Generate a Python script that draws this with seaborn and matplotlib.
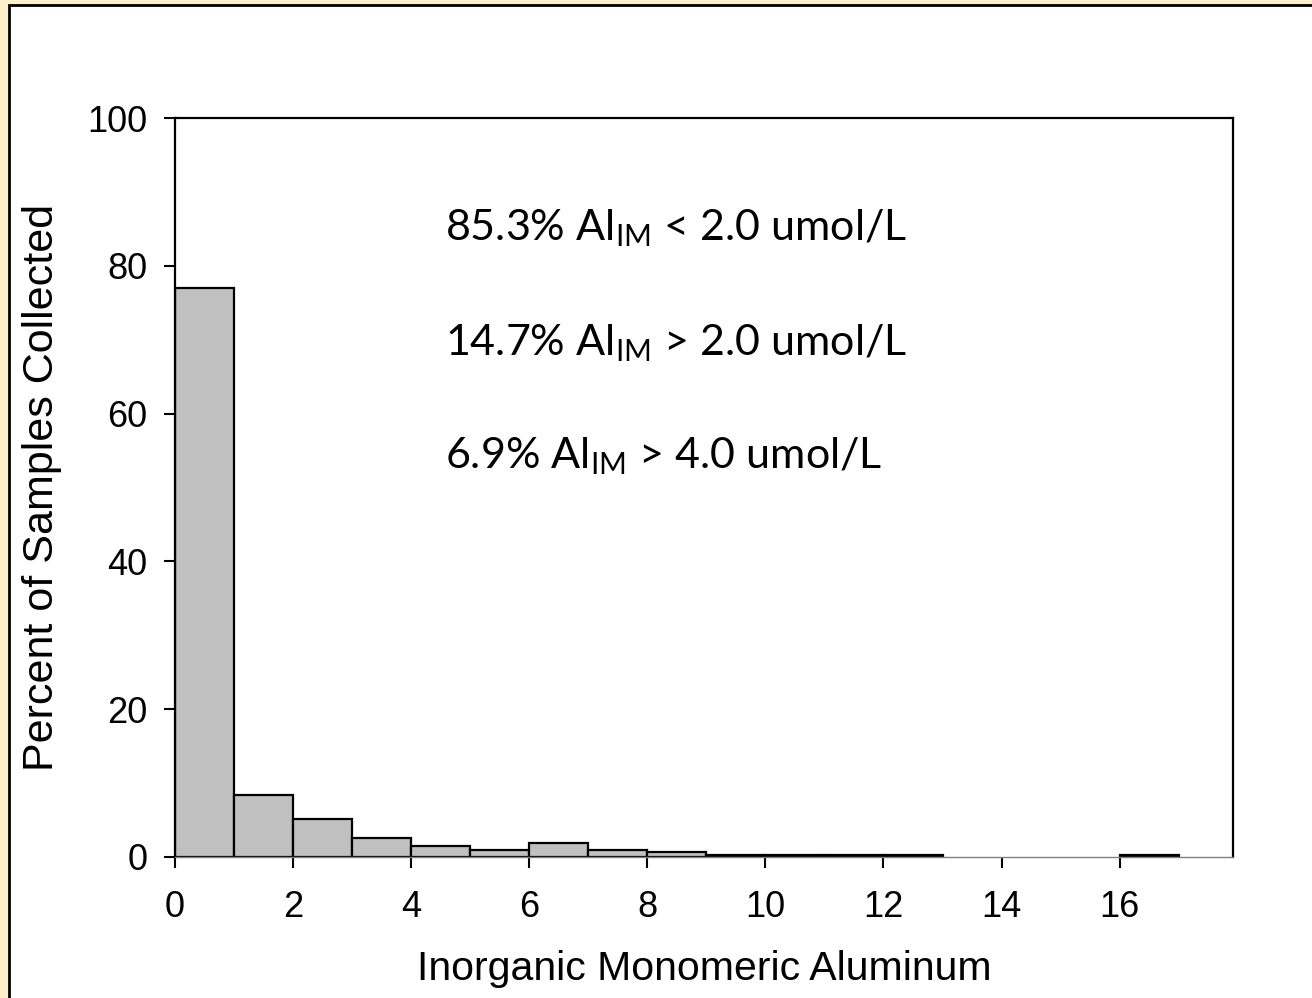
import matplotlib
matplotlib.use("Agg")
import matplotlib.pyplot as plt
from matplotlib.patches import Rectangle
import numpy as np
import seaborn as sns

# Histogram bins (umol/L) and percent of samples in each bin
bin_edges = [0, 1, 2, 3, 4, 5, 6, 7, 8, 9, 10, 11, 12, 13, 14, 15, 16, 17]
percent = [77.0, 8.4, 5.2, 2.6, 1.5, 0.9, 1.9, 0.95, 0.7,
           0.25, 0.25, 0.25, 0.25, 0.0, 0.0, 0.0, 0.25]

x_ticks = [0, 2, 4, 6, 8, 10, 12, 14, 16]
y_ticks = [0, 20, 40, 60, 80, 100]

summary = [
    ("85.3%", "<", "2.0"),
    ("14.7%", ">", "2.0"),
    ("6.9%", ">", "4.0"),
]

sns.set_theme(style="white")
plt.rcParams["font.family"] = ["Liberation Sans", "DejaVu Sans"]
plt.rcParams["text.color"] = "black"
plt.rcParams["axes.labelcolor"] = "black"
plt.rcParams["xtick.color"] = "black"
plt.rcParams["ytick.color"] = "black"

fig = plt.figure(figsize=(13.12, 9.98), dpi=100, facecolor="#FDEFCC")

# white panel with a dark frame, kept behind the axes
frame = Rectangle((9 / 1312, -0.1), 1.2, 1.1 - 5.5 / 998,
                  transform=fig.transFigure, facecolor="white",
                  edgecolor="black", linewidth=2, zorder=-10)
fig.add_artist(frame)

ax = fig.add_axes([175 / 1312, 1 - 857 / 998, 1058 / 1312, 739 / 998])
ax.set_facecolor("white")

centers = [(a + b) / 2 for a, b in zip(bin_edges[:-1], bin_edges[1:])]
sns.histplot(x=centers, weights=percent, bins=bin_edges, stat="count",
             color="#C0C0C0", edgecolor="black", linewidth=1.6, alpha=1,
             ax=ax)
for p in ax.patches:
    if p.get_height() == 0:
        p.set_linewidth(0)

ax.set_xlim(0, 17.92)
ax.set_ylim(0, 100)
ax.set_xticks(x_ticks)
ax.set_yticks(y_ticks)
ax.tick_params(axis="both", which="major", direction="out", length=8,
               width=1.5, color="black", labelcolor="black", labelsize=26,
               bottom=True, left=True)
ax.tick_params(axis="x", pad=16)
ax.tick_params(axis="y", pad=12)

for side in ["left", "top", "right"]:
    ax.spines[side].set_color("black")
    ax.spines[side].set_linewidth(1.6)
ax.spines["bottom"].set_color("#808080")
ax.spines["bottom"].set_linewidth(1.0)

ax.set_xlabel("Inorganic Monomeric Aluminum", fontsize=29.5, labelpad=18)
ax.set_ylabel("Percent of Samples Collected", fontsize=31, labelpad=18)

y_pos = [0.835, 0.679, 0.526]
for (pct, op, val), yy in zip(summary, y_pos):
    ax.text(0.255, yy,
            f"{pct} Al$_{{\\mathregular{{IM}}}}$ {op} {val} umol/L",
            transform=ax.transAxes, fontsize=31, family="Lato",
            va="baseline", ha="left", color="black")

fig.savefig("out.png", dpi=100, facecolor=fig.get_facecolor())
